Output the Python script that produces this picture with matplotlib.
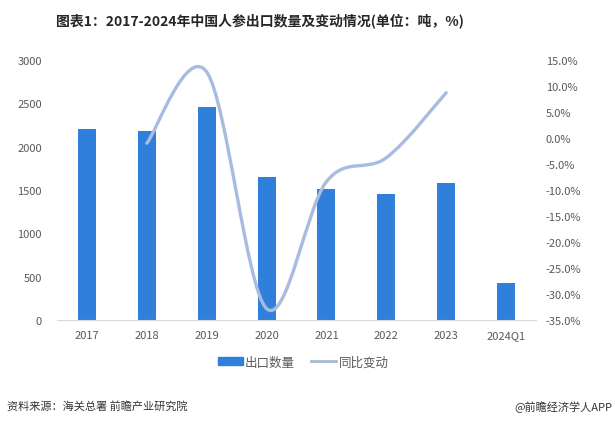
import numpy as np
import matplotlib.pyplot as plt
from matplotlib.path import Path
from matplotlib.patches import PathPatch
from matplotlib.lines import Line2D
from matplotlib.patches import Patch

plt.rcParams['font.family'] = ['Noto Sans CJK SC', 'DejaVu Sans']

years = ['2017', '2018', '2019', '2020', '2021', '2022', '2023', '2024Q1']
export_qty = [2203, 2180, 2457, 1650, 1511, 1453, 1580, 427]      # 吨
yoy_change = [None, -1.0, 12.7, -32.8, -8.4, -3.8, 8.7, None]     # %

BAR_COLOR = '#2F7FDB'
LINE_COLOR = '#A8BBE0'
TEXT_COLOR = '#595959'


def smooth_path(xs, ys):
    # Excel-style smoothed line: cubic bezier with catmull-rom tangents
    verts = [(xs[0], ys[0])]
    codes = [Path.MOVETO]
    n = len(xs)
    for i in range(n - 1):
        x0, y0 = (xs[i - 1], ys[i - 1]) if i > 0 else (xs[i], ys[i])
        x1, y1 = xs[i], ys[i]
        x2, y2 = xs[i + 1], ys[i + 1]
        x3, y3 = (xs[i + 2], ys[i + 2]) if i + 2 < n else (x2, y2)
        c1 = (x1 + (x2 - x0) / 6, y1 + (y2 - y0) / 6)
        c2 = (x2 - (x3 - x1) / 6, y2 - (y3 - y1) / 6)
        verts += [c1, c2, (x2, y2)]
        codes += [Path.CURVE4] * 3
    return Path(verts, codes)


def main():
    fig = plt.figure(figsize=(6.15, 4.27), dpi=100)
    ax = fig.add_axes([0.0927, 0.2482, 0.7788, 0.609])
    x = np.arange(len(years))

    ax.bar(x, export_qty, width=0.3, color=BAR_COLOR, zorder=2)
    ax.set_xlim(-0.5, len(years) - 0.5)
    ax.set_ylim(0, 3000)
    ax.set_yticks(range(0, 3001, 500))
    ax.set_xticks(x)
    ax.set_xticklabels(years)
    ax.tick_params(axis='both', length=0, labelsize=8, colors=TEXT_COLOR)
    ax.tick_params(axis='y', pad=11)
    ax.tick_params(axis='x', pad=7)
    for s in ['top', 'right', 'left']:
        ax.spines[s].set_visible(False)
    ax.spines['bottom'].set_color('#D9D9D9')

    ax2 = ax.twinx()
    ax2.set_ylim(-35, 15)
    ax2.set_yticks(np.arange(-35, 15.1, 5))
    ax2.set_yticklabels(['%.1f%%' % v for v in np.arange(-35, 15.1, 5)])
    ax2.tick_params(axis='y', length=0, labelsize=8, colors=TEXT_COLOR, pad=7)
    for s in ax2.spines.values():
        s.set_visible(False)

    pts = [(i, v) for i, v in enumerate(yoy_change) if v is not None]
    px = [p[0] for p in pts]
    py = [p[1] for p in pts]
    ax2.add_patch(PathPatch(smooth_path(px, py), facecolor='none',
                            edgecolor=LINE_COLOR, lw=2.4, capstyle='round', zorder=3))

    fig.text(0.423, 0.952, '图表1：2017-2024年中国人参出口数量及变动情况(单位：吨，%)',
             ha='center', va='center', fontsize=10, fontweight='bold', color='#262626')

    handles = [Patch(color=BAR_COLOR), Line2D([0], [0], color='#A9B9D0', lw=2)]
    fig.legend(handles, ['出口数量', '同比变动'], loc='center', bbox_to_anchor=(0.493, 0.15),
               ncol=2, frameon=False, fontsize=9, handlelength=2.0, handleheight=0.5,
               handletextpad=0.2, columnspacing=1.3, labelcolor=TEXT_COLOR)

    fig.text(0.012, 0.047, '资料来源：海关总署 前瞻产业研究院', ha='left', va='center',
             fontsize=8, color='#333333')
    fig.text(0.995, 0.047, '@前瞻经济学人APP', ha='right', va='center',
             fontsize=8, color='#333333')

    fig.savefig('out.png', dpi=100, facecolor='white')


if __name__ == '__main__':
    main()
